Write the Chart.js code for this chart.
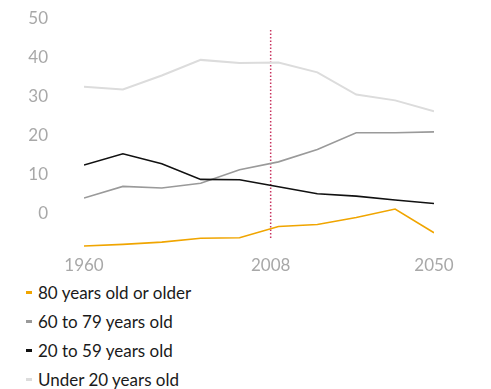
<!DOCTYPE html>
<html>
<head>
<meta charset="utf-8">
<script src="https://cdn.jsdelivr.net/npm/chart.js@4/dist/chart.umd.min.js"></script>
<style>
  html, body { margin: 0; padding: 0; background: #fff; }
  #wrap { position: relative; width: 491px; height: 283px; }
  #legend { margin: -5px 0 0 0; padding: 0 0 0 26px; list-style: none; font-family: Lato, sans-serif; font-size: 17px; color: #1a1a1a; }
  #legend li { height: 29px; line-height: 29px; display: flex; align-items: center; }
  #legend .mark { display: inline-block; width: 6px; height: 3px; margin-right: 6px; }
</style>
</head>
<body>
<div id="wrap"><canvas id="grafico"></canvas></div>
<ul id="legend"></ul>
<script>
// anos (eixo x)
const anos = [1960, 1970, 1980, 1990, 2000, 2010, 2020, 2030, 2040, 2050];

// series (percentual da populacao)
const menos20 = [32.6, 31.9, 35.5, 39.5, 38.7, 38.8, 36.3, 30.6, 29.1, 26.3];
const de20a59 = [12.5, 15.4, 12.8, 8.8, 8.7, 6.9, 5.1, 4.5, 3.5, 2.6];
const de60a79 = [4.0, 7.0, 6.6, 7.8, 11.3, 13.3, 16.5, 20.8, 20.8, 21.0];
const mais80 = [-8.3, -7.9, -7.3, -6.3, -6.2, -3.3, -2.8, -1.0, 1.2, -4.9];

const nomes = ['Under 20 years old', '20 to 59 years old', '60 to 79 years old', '80 years old or older'];
const cores = ['#dcdcdc', '#111111', '#9a9a9a', '#f0a500'];

// marcador vertical e ticks
const anoMarcador = 2008;
const marcadorFaixa = [47.2, -6.5];
const ticksX = [1960, 2008, 2050];
const ticksY = [0, 10, 20, 30, 40, 50];

const series = [menos20, de20a59, de60a79, mais80];

const datasets = series.map((s, i) => ({
    label: nomes[i],
    data: s.map((v, j) => ({ x: anos[j], y: v })),
    borderColor: cores[i],
    backgroundColor: cores[i],
    borderWidth: i === 0 ? 2 : 1.6,
    pointRadius: 0,
    tension: 0
}));

datasets.push({
    label: 'marcador',
    data: marcadorFaixa.map(v => ({ x: anoMarcador, y: v })),
    borderColor: '#c8345f',
    borderWidth: 1.5,
    borderDash: [1.5, 2],
    pointRadius: 0
});

const cinza = '#a8a8a8';

new Chart(document.getElementById('grafico'), {
    type: 'line',
    data: { datasets },
    options: {
        responsive: true,
        maintainAspectRatio: false,
        animation: false,
        layout: { padding: { left: 0, right: 57, top: 19, bottom: 4 } },
        plugins: { legend: { display: false }, tooltip: { enabled: false } },
        scales: {
            x: {
                type: 'linear',
                min: 1960,
                max: 2050,
                afterBuildTicks: axis => { axis.ticks = ticksX.map(v => ({ value: v })); },
                ticks: {
                    color: cinza,
                    font: { family: 'Lato', size: 17 },
                    padding: 3,
                    maxRotation: 0,
                    callback: v => String(v)
                },
                grid: { display: false, drawTicks: false },
                border: { display: false }
            },
            y: {
                min: -10,
                max: 50,
                afterBuildTicks: axis => { axis.ticks = ticksY.map(v => ({ value: v })); },
                afterFit: axis => {
                    // largura fixa e sem a folga extra que o padding dos ticks cria
                    axis.width = 84;
                    axis.paddingTop = 0;
                    axis.paddingBottom = 0;
                },
                ticks: {
                    color: cinza,
                    font: { family: 'Lato', size: 17 },
                    padding: 36
                },
                grid: { display: false, drawTicks: false },
                border: { display: false }
            }
        }
    }
});

// legenda em HTML (ordem inversa)
const legenda = document.getElementById('legend');
[3, 2, 1, 0].forEach(i => {
    const li = document.createElement('li');
    li.innerHTML = '<span class="mark" style="background:' + cores[i] + '"></span>' + nomes[i];
    legenda.appendChild(li);
});
</script>
</body>
</html>
